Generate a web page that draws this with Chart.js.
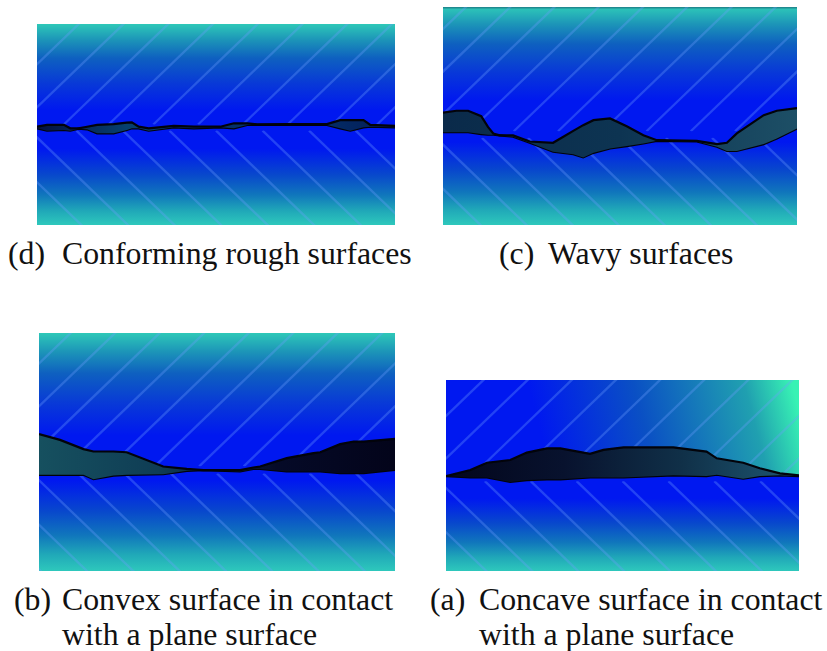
<!DOCTYPE html>
<html>
<head>
<meta charset="utf-8">
<title>Surface contact types</title>
<script src="https://cdn.jsdelivr.net/npm/chart.js@4"></script>
<style>
  html, body { margin: 0; padding: 0; background: #fff; }
  #page { position: relative; width: 827px; height: 651px; overflow: hidden; }
  canvas { position: absolute; filter: blur(0.55px); }
  .cap { position: absolute; font-family: "Liberation Serif", serif; font-size: 31.8px; line-height: 37px; color: #111; white-space: nowrap; }
</style>
</head>
<body>
<div id="page">
  <canvas id="panelD" width="358" height="201" style="left:37px;top:24px"></canvas>
  <canvas id="panelC" width="354" height="218" style="left:443px;top:7px"></canvas>
  <canvas id="panelB" width="356" height="238" style="left:39px;top:333px"></canvas>
  <canvas id="panelA" width="353" height="191" style="left:446px;top:380px"></canvas>

  <div class="cap" style="left:8px;top:235px">(d)</div>
  <div class="cap" style="left:62px;top:235px">Conforming rough surfaces</div>
  <div class="cap" style="left:499px;top:235px">(c)</div>
  <div class="cap" style="left:548px;top:235px">Wavy surfaces</div>
  <div class="cap" style="left:14px;top:581px">(b)</div>
  <div class="cap" style="left:62px;top:581px">Convex surface in contact</div>
  <div class="cap" style="left:62px;top:616px">with a plane surface</div>
  <div class="cap" style="left:430px;top:581px">(a)</div>
  <div class="cap" style="left:479px;top:581px">Concave surface in contact</div>
  <div class="cap" style="left:479px;top:616px">with a plane surface</div>
</div>

<script>
// profiles: x along the panel (0-100), y is height above the panel bottom (0-100)
const dX = [0, 2.8, 7.5, 9.3, 11.6, 14, 16.8, 21.4, 25.1, 26.5, 28.4, 31.2, 38.2, 43.8, 51.2, 55, 58.7, 61.5, 69.8, 81, 84.7, 87.5, 91.2, 93.1, 100];
const dUpper = [48.9, 49.8, 49.8, 48.1, 48.1, 48.9, 49.8, 50.2, 50.9, 51.1, 48.9, 48.1, 49.3, 48.9, 48.9, 50.6, 50.6, 50.1, 50.2, 50.2, 52.2, 52.2, 52.2, 49.8, 49.3];
const dLower = [48.1, 46.9, 47.3, 46.9, 47.9, 47.6, 45.6, 45.6, 47.3, 48.1, 48.1, 46.9, 48.6, 48.1, 48.6, 48.1, 49.8, 49.8, 49.8, 49.8, 48.1, 46.9, 48.6, 48.9, 48.6];

const cX = [0, 3.8, 7.1, 10.8, 12.7, 14.2, 16, 19.8, 24.5, 31.1, 36.8, 39.6, 42.5, 47.2, 51.9, 56.6, 60.4, 71.7, 77.4, 80.2, 83, 90.6, 94.3, 100];
const cUpper = [51.5, 52.4, 52.4, 49.9, 45, 42, 41.1, 41.1, 38.3, 37.7, 43.2, 45.8, 48.1, 48.9, 45.3, 41.2, 38.9, 38.6, 37.1, 37.7, 42, 50.4, 52.4, 53.6];
const cLower = [42.6, 42.6, 42.6, 41.7, 41.4, 41.4, 41.1, 40.5, 37.7, 33.6, 32.5, 31, 33.1, 35.1, 36.2, 37.4, 38.6, 38.3, 35.9, 34, 34, 37.1, 39.7, 44.3];

const bX = [0, 5.9, 12.5, 15.3, 20.9, 24.6, 34.9, 41.5, 46.2, 56.5, 60.2, 62.1, 69.6, 77.1, 79, 84.6, 88.4, 91.2, 100];
const bUpper = [57.5, 55.1, 51.2, 50.2, 50.2, 49.9, 43.9, 42.9, 42.4, 42.4, 43.5, 43.9, 47.4, 49.5, 49.9, 53.3, 54.4, 54.4, 55.5];
const bLower = [40.4, 40.4, 40.4, 38.6, 40.1, 40.4, 40.7, 42.1, 42.4, 41.8, 42.9, 42.9, 41.8, 41.8, 41.8, 41.1, 41.1, 41.1, 42.5];

const aX = [0, 6.9, 11.6, 18.2, 22.9, 28.6, 32.4, 40.8, 44.6, 50.3, 64.4, 73.8, 76.7, 84.2, 88.9, 94.6, 100];
const aUpper = [49.7, 52.9, 56.7, 58.1, 62, 64.2, 64.2, 61.3, 63.4, 64.7, 64.7, 62.5, 59, 56.7, 53.8, 51.1, 50.1];
const aLower = [49.7, 49, 49, 46.6, 47.6, 48, 48, 49, 49, 49, 50.1, 49.7, 50.4, 48.3, 49.7, 50.1, 49.7];

// where the hatch lines leave the interface, in the same x units
const hatchUp = [-30, -17.5, -5, 7.5, 20, 32.5, 45, 57.5, 70, 82.5, 95];
const hatchDown = [-28, -15, -2, 11, 24, 37, 50, 63, 76, 89];

const stopsBody = [[0, '#2ec8b8'], [0.08, '#1c94b8'], [0.17, '#0e60c0'], [0.3, '#0838d8'], [0.43, '#0018f0'], [0.62, '#0018f0'], [0.75, '#0848cc'], [0.85, '#1076bc'], [0.93, '#20a8b8'], [1, '#2ec8bc']];

function drawHatch(ctx, area, scales, level, dir, starts) {
    const y0 = scales.y.getPixelForValue(level);
    ctx.save();
    ctx.beginPath();
    ctx.rect(area.left, dir < 0 ? area.top : y0, area.width, dir < 0 ? y0 - area.top : area.bottom - y0);
    ctx.clip();
    ctx.strokeStyle = 'rgba(110,160,255,0.32)';
    ctx.lineWidth = 2.4;
    ctx.filter = 'blur(0.7px)';
    starts.forEach(s => {
        const x0 = scales.x.getPixelForValue(s);
        ctx.beginPath();
        ctx.moveTo(x0, y0);
        ctx.lineTo(x0 + 400, y0 + dir * 385);
        ctx.stroke();
    });
    ctx.restore();
}

const bodyPlugin = {
    id: 'bodyPlugin',
    beforeDatasetsDraw(chart, args, opts) {
        const { ctx, chartArea: area, scales } = chart;
        const g = ctx.createLinearGradient(0, area.top, 0, area.bottom);
        stopsBody.forEach(s => g.addColorStop(s[0], s[1]));
        ctx.fillStyle = g;
        ctx.fillRect(area.left, area.top, area.width, area.height);

        if (opts.glow) {
            // panel (a): upper body goes blue to green towards the top right corner
            const midY = scales.y.getPixelForValue(opts.level);
            const glow = ctx.createLinearGradient(area.left + area.width * 0.3, midY, area.right, area.top + area.height * 0.16);
            glow.addColorStop(0, '#0018f0');
            glow.addColorStop(0.4, '#0a50c4');
            glow.addColorStop(0.82, '#20a0b0');
            glow.addColorStop(1, '#38f2b4');
            ctx.fillStyle = glow;
            ctx.fillRect(area.left, area.top, area.width, midY - area.top);
        }
        if (opts.topEdge) {
            ctx.fillStyle = opts.topEdge;
            ctx.fillRect(area.left, area.top, area.width, 1.5);
        }
        drawHatch(ctx, area, scales, opts.level, -1, hatchUp);
        drawHatch(ctx, area, scales, opts.level - 3, 1, hatchDown);
    }
};

function pocketFill(colors) {
    return function(context) {
        const area = context.chart.chartArea;
        if (!area) return colors[0];
        const g = context.chart.ctx.createLinearGradient(area.left, 0, area.right, 0);
        colors.forEach((c, i) => g.addColorStop(i / (colors.length - 1), c));
        return g;
    };
}

function makePanel(id, xs, upper, lower, colors, body) {
    const pts = arr => arr.map((v, i) => ({ x: xs[i], y: v }));
    new Chart(document.getElementById(id), {
        type: 'line',
        data: {
            datasets: [
                { data: pts(upper), fill: '+1', backgroundColor: pocketFill(colors), borderColor: '#02030a', borderWidth: 2.2, pointRadius: 0, tension: 0 },
                { data: pts(lower), fill: false, borderColor: '#02030a', borderWidth: 2.2, pointRadius: 0, tension: 0 }
            ]
        },
        options: {
            responsive: false,
            animation: false,
            layout: { padding: 0 },
            scales: {
                x: { type: 'linear', min: 0, max: 100, display: false },
                y: { min: 0, max: 100, display: false }
            },
            plugins: { legend: { display: false }, tooltip: { enabled: false }, bodyPlugin: body }
        },
        plugins: [bodyPlugin]
    });
}

makePanel('panelD', dX, dUpper, dLower, ['#041040', '#06406f', '#04306a', '#04306a', '#031c58'], { level: 50 });
makePanel('panelC', cX, cUpper, cLower, ['#0a2a4a', '#0d3452', '#1d4f66'], { level: 43, topEdge: '#208a90' });
makePanel('panelB', bX, bUpper, bLower, ['#16505f', '#0f3d55', '#050a28', '#03041a'], { level: 44 });
makePanel('panelA', aX, aUpper, aLower, ['#03061c', '#08122e', '#103048', '#1e5873'], { level: 50, glow: true });
</script>
</body>
</html>
